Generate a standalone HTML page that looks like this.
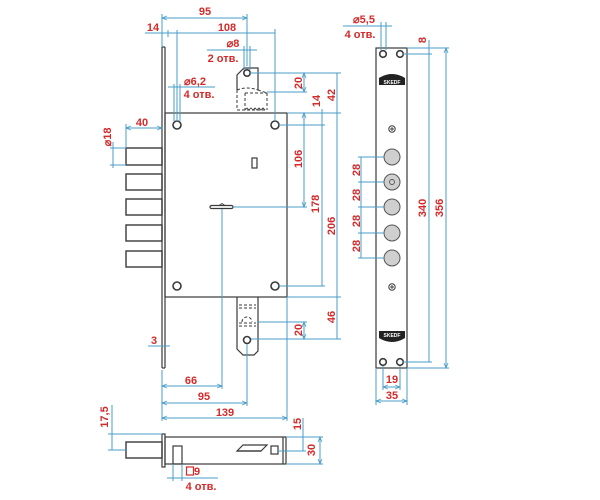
<!DOCTYPE html>
<html><head><meta charset="utf-8"><style>
html,body{margin:0;padding:0;background:#fff;}
svg{display:block;}
text{font-family:"Liberation Sans",Arial,sans-serif;font-weight:bold;font-size:11px;fill:#d42a2a;}
.d{stroke:#4a9cc8;stroke-width:1;fill:none;}
.b{stroke:#3a3a3a;stroke-width:1.2;fill:none;}
.h{stroke:#3a3a3a;stroke-width:1.6;fill:#fff;}
.ds{stroke:#3a3a3a;stroke-width:1;fill:none;stroke-dasharray:3 2;}
</style></head><body>
<svg width="600" height="500" viewBox="0 0 600 500" xmlns="http://www.w3.org/2000/svg">
<defs>
<marker id="a" markerWidth="6" markerHeight="6" refX="5" refY="3" orient="auto-start-reverse" markerUnits="userSpaceOnUse">
<path d="M0,1 L5,3 L0,5" fill="none" stroke="#4a9cc8" stroke-width="0.8"/>
</marker>
</defs>

<!-- ===== Main lock front view ===== -->
<!-- faceplate -->
<line class="b" x1="162" y1="47" x2="162" y2="368"/>
<line class="b" x1="165" y1="47" x2="165" y2="368"/>
<line class="b" x1="162" y1="47" x2="165" y2="47"/>
<line class="b" x1="162" y1="368" x2="165" y2="368"/>
<!-- body -->
<rect class="b" x="165" y="113" width="122" height="184"/>
<!-- holes -->
<circle class="h" cx="177" cy="125" r="4"/>
<circle class="h" cx="275" cy="125" r="4"/>
<circle class="h" cx="177" cy="286" r="4"/>
<circle class="h" cx="275" cy="286" r="4"/>
<!-- keyhole -->
<rect class="b" x="252" y="158" width="5" height="10"/>
<!-- bolts -->
<rect class="b" x="126" y="148" width="36" height="17" style="stroke-width:1.4"/>
<rect class="b" x="126" y="174" width="36" height="16" style="stroke-width:1.4"/>
<rect class="b" x="126" y="199" width="36" height="16" style="stroke-width:1.4"/>
<rect class="b" x="126" y="225" width="36" height="16" style="stroke-width:1.4"/>
<rect class="b" x="126" y="251" width="36" height="16" style="stroke-width:1.4"/>
<!-- top tab -->
<path class="b" d="M237 90 L237 75 L244 68 L258 68 L258 90"/>
<circle class="h" cx="247" cy="73" r="3.2"/>
<path class="ds" d="M237 90 Q247 86 258 90 M237 90 L237 110 M245 93 L245 110 M267 93 L267 110 M245 93 L267 93 M258 90 L267 93 M237 110 L267 110"/>
<path class="b" d="M245 110 L247 108 L249 110 L251 108 L253 110 L255 108 L257 110 L259 108 L261 110 L263 108 L265 110" style="stroke-width:0.8"/>
<!-- bottom tab -->
<path class="b" d="M237 297 L237 349 L243 355 L254 355 L258 351 L258 297"/>
<path class="ds" d="M239 305 L256 305 M239 308 L256 308 M239 323 L256 323 M239 326 L256 326 M242 322 A5 5 0 0 1 252 322"/>
<circle class="h" cx="247" cy="340" r="3.5"/>
<!-- cam -->
<rect class="b" x="210" y="205.5" width="23" height="3" rx="1.5"/>
<path class="b" d="M219 205.5 L222 203.5 L225 205.5" style="stroke-width:0.9"/>

<!-- ===== dimensions front ===== -->
<!-- 95 top -->
<line class="d" x1="162" y1="18" x2="247" y2="18" marker-start="url(#a)" marker-end="url(#a)"/>
<line class="d" x1="162" y1="14" x2="162" y2="47"/>
<line class="d" x1="247" y1="14" x2="247" y2="66"/>
<text x="205" y="15" text-anchor="middle">95</text>
<!-- 108 / 14 -->
<line class="d" x1="145" y1="33" x2="275" y2="33"/>
<line class="d" x1="275" y1="29" x2="275" y2="121"/>
<line class="d" x1="177" y1="30" x2="177" y2="121"/>
<line class="d" x1="168" y1="30" x2="168" y2="37"/>
<text x="153" y="31" text-anchor="middle">14</text>
<text x="227" y="31" text-anchor="middle">108</text>
<!-- dia 8 -->
<line class="d" x1="207" y1="50" x2="257" y2="50"/>
<line class="d" x1="244" y1="46" x2="244" y2="70"/>
<line class="d" x1="250" y1="46" x2="250" y2="70"/>
<text x="233" y="47" text-anchor="middle">⌀8</text>
<text x="223" y="62" text-anchor="middle">2 отв.</text>
<!-- dia 6,2 -->
<line class="d" x1="168" y1="87" x2="215" y2="87"/>
<line class="d" x1="174" y1="84" x2="174" y2="121"/>
<line class="d" x1="180" y1="84" x2="180" y2="121"/>
<text x="195" y="85" text-anchor="middle">⌀6,2</text>
<text x="199" y="98" text-anchor="middle">4 отв.</text>
<!-- 40 -->
<line class="d" x1="126" y1="128" x2="162" y2="128" marker-start="url(#a)" marker-end="url(#a)"/>
<line class="d" x1="126" y1="124" x2="126" y2="148"/>
<text x="142" y="126" text-anchor="middle">40</text>
<!-- dia 18 -->
<line class="d" x1="113" y1="142" x2="113" y2="168"/>
<line class="d" x1="110" y1="148" x2="126" y2="148"/>
<line class="d" x1="110" y1="165" x2="126" y2="165"/>
<text transform="translate(111,137) rotate(-90)" text-anchor="middle">⌀18</text>
<!-- right side -->
<line class="d" x1="250" y1="73" x2="341" y2="73"/>
<line class="d" x1="267" y1="92" x2="307" y2="92"/>
<line class="d" x1="304" y1="73" x2="304" y2="92" marker-start="url(#a)" marker-end="url(#a)"/>
<text transform="translate(302,83) rotate(-90)" text-anchor="middle">20</text>
<line class="d" x1="287" y1="113" x2="341" y2="113"/>
<line class="d" x1="337" y1="73" x2="337" y2="339"/>
<text transform="translate(335,95) rotate(-90)" text-anchor="middle">42</text>
<line class="d" x1="279" y1="125" x2="325" y2="125"/>
<line class="d" x1="322" y1="109" x2="322" y2="286"/>
<text transform="translate(320,101) rotate(-90)" text-anchor="middle">14</text>
<line class="d" x1="304" y1="113" x2="304" y2="207" marker-start="url(#a)" marker-end="url(#a)"/>
<line class="d" x1="233" y1="207" x2="307" y2="207"/>
<text transform="translate(302,159) rotate(-90)" text-anchor="middle">106</text>
<text transform="translate(319,204) rotate(-90)" text-anchor="middle">178</text>
<line class="d" x1="279" y1="286" x2="325" y2="286"/>
<text transform="translate(335,226) rotate(-90)" text-anchor="middle">206</text>
<line class="d" x1="287" y1="297" x2="341" y2="297"/>
<line class="d" x1="251" y1="339" x2="341" y2="339"/>
<text transform="translate(335,317) rotate(-90)" text-anchor="middle">46</text>
<line class="d" x1="258" y1="322" x2="307" y2="322"/>
<line class="d" x1="304" y1="322" x2="304" y2="339" marker-start="url(#a)" marker-end="url(#a)"/>
<text transform="translate(302,330) rotate(-90)" text-anchor="middle">20</text>
<!-- 3 -->
<line class="d" x1="148" y1="346" x2="170" y2="346"/>
<text x="154" y="344" text-anchor="middle">3</text>
<!-- bottom horizontal dims -->
<line class="d" x1="162" y1="370" x2="162" y2="421"/>
<line class="d" x1="222" y1="209" x2="222" y2="389"/>
<line class="d" x1="247" y1="344" x2="247" y2="406"/>
<line class="d" x1="287" y1="297" x2="287" y2="421"/>
<line class="d" x1="162" y1="386" x2="222" y2="386" marker-start="url(#a)" marker-end="url(#a)"/>
<line class="d" x1="162" y1="403" x2="247" y2="403" marker-start="url(#a)" marker-end="url(#a)"/>
<line class="d" x1="162" y1="418" x2="287" y2="418" marker-start="url(#a)" marker-end="url(#a)"/>
<text x="191" y="384" text-anchor="middle">66</text>
<text x="204" y="400" text-anchor="middle">95</text>
<text x="225" y="416" text-anchor="middle">139</text>

<!-- ===== bottom view ===== -->
<rect class="b" x="162" y="434" width="3" height="33"/>
<rect class="b" x="165" y="437" width="121" height="27"/>
<line class="b" x1="283" y1="437" x2="283" y2="464"/>
<rect class="b" x="126" y="442" width="36" height="16" style="stroke-width:1.4"/>
<rect class="b" x="173" y="446" width="9" height="18"/>
<path class="b" d="M237 451 L243 445 L267 445 L261 451 Z"/>
<line class="b" x1="237" y1="451" x2="261" y2="451"/>
<rect class="b" x="271" y="446" width="7" height="8"/>
<!-- 17,5 -->
<line class="d" x1="112" y1="405" x2="112" y2="450"/>
<line class="d" x1="108" y1="434" x2="162" y2="434"/>
<line class="d" x1="108" y1="450" x2="126" y2="450"/>
<text transform="translate(108,417) rotate(-90)" text-anchor="middle">17,5</text>
<!-- 15 / 30 -->
<line class="d" x1="286" y1="437" x2="323" y2="437"/>
<line class="d" x1="278" y1="451" x2="306" y2="451"/>
<line class="d" x1="286" y1="464" x2="323" y2="464"/>
<line class="d" x1="303" y1="418" x2="303" y2="451"/>
<line class="d" x1="320" y1="437" x2="320" y2="464" marker-start="url(#a)" marker-end="url(#a)"/>
<text transform="translate(301,424) rotate(-90)" text-anchor="middle">15</text>
<text transform="translate(315,450) rotate(-90)" text-anchor="middle">30</text>
<!-- square 9 -->
<line class="d" x1="167" y1="478" x2="218" y2="478"/>
<line class="d" x1="173" y1="464" x2="173" y2="481"/>
<line class="d" x1="182" y1="464" x2="182" y2="481"/>
<rect x="186.5" y="467" width="7" height="8" fill="none" stroke="#d42a2a" stroke-width="1.2"/>
<text x="194" y="475">9</text>
<text x="201" y="490" text-anchor="middle">4 отв.</text>

<!-- ===== right strip ===== -->
<rect class="b" x="376" y="48" width="31" height="320"/>
<circle class="h" cx="383" cy="54" r="3.3"/>
<circle class="h" cx="400" cy="54" r="3.3"/>
<circle class="h" cx="383" cy="362" r="3.3"/>
<circle class="h" cx="400" cy="362" r="3.3"/>
<!-- logos -->
<path d="M379 85 L379 78 Q392 70 405 78 L405 85 Z" fill="#222"/>
<text x="392" y="84" text-anchor="middle" style="font-size:5px;fill:#fff">SKEDF</text>
<path d="M379 331 L405 331 L405 338 Q392 346 379 338 Z" fill="#222"/>
<text x="392" y="337" text-anchor="middle" style="font-size:5px;fill:#fff">SKEDF</text>
<!-- screws -->
<circle cx="392" cy="129" r="3.2" fill="#fff" stroke="#3a3a3a" stroke-width="1"/>
<path d="M390 129 L394 129 M392 127 L392 131" stroke="#3a3a3a" stroke-width="0.9"/>
<circle cx="392" cy="287" r="3.2" fill="#fff" stroke="#3a3a3a" stroke-width="1"/>
<path d="M390 287 L394 287 M392 285 L392 289" stroke="#3a3a3a" stroke-width="0.9"/>
<!-- bolt holes -->
<circle cx="392" cy="157" r="8" fill="#cfcfcf" stroke="#555" stroke-width="1"/>
<circle cx="392" cy="182" r="8" fill="#cfcfcf" stroke="#555" stroke-width="1"/>
<circle cx="392" cy="182" r="2.5" fill="none" stroke="#555" stroke-width="0.9"/>
<circle cx="392" cy="207" r="8" fill="#cfcfcf" stroke="#555" stroke-width="1"/>
<circle cx="392" cy="233" r="8" fill="#cfcfcf" stroke="#555" stroke-width="1"/>
<circle cx="392" cy="258" r="8" fill="#cfcfcf" stroke="#555" stroke-width="1"/>
<!-- 28 dims -->
<line class="d" x1="361" y1="157" x2="361" y2="258"/>
<line class="d" x1="358" y1="157" x2="384" y2="157"/>
<line class="d" x1="358" y1="182" x2="384" y2="182"/>
<line class="d" x1="358" y1="207" x2="384" y2="207"/>
<line class="d" x1="358" y1="233" x2="384" y2="233"/>
<line class="d" x1="358" y1="258" x2="384" y2="258"/>
<text transform="translate(360,170) rotate(-90)" text-anchor="middle">28</text>
<text transform="translate(360,195) rotate(-90)" text-anchor="middle">28</text>
<text transform="translate(360,221) rotate(-90)" text-anchor="middle">28</text>
<text transform="translate(360,246) rotate(-90)" text-anchor="middle">28</text>
<!-- dia 5,5 -->
<line class="d" x1="343" y1="26" x2="392" y2="26"/>
<line class="d" x1="381" y1="22" x2="381" y2="50"/>
<line class="d" x1="386" y1="22" x2="386" y2="50"/>
<text x="364" y="23" text-anchor="middle">⌀5,5</text>
<text x="360" y="38" text-anchor="middle">4 отв.</text>
<!-- 8 / 340 / 356 -->
<line class="d" x1="407" y1="48" x2="449" y2="48"/>
<line class="d" x1="403" y1="54" x2="432" y2="54"/>
<line class="d" x1="403" y1="362" x2="432" y2="362"/>
<line class="d" x1="407" y1="368" x2="449" y2="368"/>
<line class="d" x1="429" y1="40" x2="429" y2="362"/>
<line class="d" x1="446" y1="48" x2="446" y2="368" marker-start="url(#a)" marker-end="url(#a)"/>
<text transform="translate(426,40) rotate(-90)" text-anchor="middle">8</text>
<text transform="translate(426,208) rotate(-90)" text-anchor="middle">340</text>
<text transform="translate(443,208) rotate(-90)" text-anchor="middle">356</text>
<!-- 19 / 35 -->
<line class="d" x1="376" y1="368" x2="376" y2="405"/>
<line class="d" x1="407" y1="368" x2="407" y2="405"/>
<line class="d" x1="383" y1="366" x2="383" y2="390"/>
<line class="d" x1="400" y1="366" x2="400" y2="390"/>
<line class="d" x1="383" y1="387" x2="400" y2="387" marker-start="url(#a)" marker-end="url(#a)"/>
<line class="d" x1="376" y1="401" x2="407" y2="401" marker-start="url(#a)" marker-end="url(#a)"/>
<text x="392" y="383" text-anchor="middle">19</text>
<text x="392" y="399" text-anchor="middle">35</text>
</svg>
</body></html>
